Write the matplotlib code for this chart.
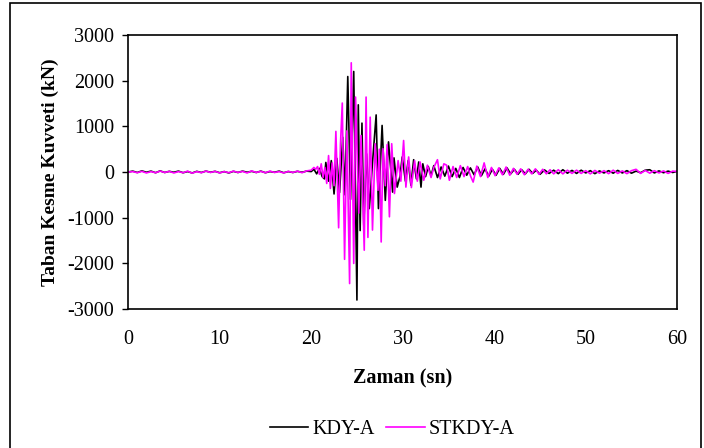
import numpy as np
import matplotlib.pyplot as plt
from matplotlib.patches import Rectangle

plt.rcParams['font.family'] = ['Liberation Serif', 'DejaVu Serif']
plt.rcParams['axes.unicode_minus'] = False

# quiet part before the strong motion (0-20 s, every 0.5 s)
quiet_t = [0.0, 0.5, 1.0, 1.5, 2.0, 2.5, 3.0, 3.5, 4.0, 4.5, 5.0, 5.5, 6.0, 6.5,
           7.0, 7.5, 8.0, 8.5, 9.0, 9.5, 10.0, 10.5, 11.0, 11.5, 12.0, 12.5, 13.0,
           13.5, 14.0, 14.5, 15.0, 15.5, 16.0, 16.5, 17.0, 17.5, 18.0, 18.5, 19.0,
           19.5]
kdy_quiet = [0, 20, -10, 25, -5, 20, -15, 25, -10, 15, -5, 20, -15, 10, -20, 15,
             -10, 20, -5, 15, -15, 10, -20, 15, -10, 20, -5, 15, -10, 20, -15, 10,
             -5, 20, -15, 10, -10, 15, -5, 20]
st_quiet = [0, 10, -15, 15, -20, 10, -15, 20, -10, 15, -20, 10, -15, 20, -25, 10,
            -15, 20, -10, 15, -20, 10, -15, 20, -10, 15, -20, 25, -10, 15, -15, 20,
            -10, 10, -20, 15, -10, 20, -15, 25]

# KDY-A, strong motion and decay (20-60 s)
kdy_t = [20.0, 20.3, 20.6, 20.9, 21.2, 21.45, 21.6, 21.9, 22.2, 22.5, 22.8, 23.1,
         23.45, 23.7, 24.0, 24.3, 24.65, 25.0, 25.15, 25.35, 25.55, 25.75, 26.05,
         26.35, 26.7, 27.1, 27.35, 27.75, 28.1, 28.45, 28.9, 29.05, 29.4, 29.7,
         29.95, 30.3, 30.6, 30.9, 31.2, 31.5, 31.75, 32.0, 32.2, 32.5, 32.8, 33.1,
         33.4, 33.8, 34.2, 34.6, 35.0, 35.4, 35.8, 36.2, 36.6, 37.0, 37.4, 37.8,
         38.2, 38.6, 39.0, 39.4, 39.8, 40.2, 40.6, 41.0, 41.4, 41.8, 42.2, 42.6,
         43.0, 43.4, 43.8, 44.2, 44.6, 45.0, 45.5, 46.0, 46.5, 47.0, 47.5, 48.0,
         48.5, 49.0, 49.5, 50.0, 50.5, 51.0, 51.5, 52.0, 52.5, 53.0, 53.5, 54.0,
         54.5, 55.0, 55.5, 56.0, 56.5, 57.0, 57.5, 58.0, 58.5, 59.0, 59.5, 60.0]
kdy_v = [10, 60, -40, 80, -100, -150, 210, -200, 250, -480, 300, -450,
         760, -500, 2090, -600, 2200, -2800, 1470, -1280, 1070, -1160, 400,
         -800, 200, 1250, -800, 1020, -620, 660, -440, 310, -330, -100,
         330, -200, 250, -290, 270, -150, 220, -330, 180, -100, 120, -80,
         140, -120, 110, -90, 130, -100, 80, -120, 100, -70, 90, -60,
         110, -80, 70, -90, 60, -70, 80, -50, 90, -40, 60, -50,
         50, -40, 60, -30, 40, -50, 45, -30, 40, -35, 50, -25,
         35, -30, 40, -20, 30, -35, 25, -20, 30, -25, 35, -20,
         30, -25, 20, -15, 40, 50, -20, 25, -15, 20, -10, 15]

# STKDY-A, strong motion and decay (20-60 s)
st_t = [20.0, 20.3, 20.5, 20.7, 20.9, 21.1, 21.3, 21.5, 21.7, 21.9, 22.1, 22.3,
        22.5, 22.7, 23.0, 23.2, 23.4, 23.65, 23.9, 24.2, 24.38, 24.65, 24.85,
        25.2, 25.45, 25.8, 26.0, 26.2, 26.45, 26.7, 27.0, 27.3, 27.45, 27.65,
        27.85, 28.1, 28.3, 28.55, 28.8, 29.1, 29.5, 29.8, 30.1, 30.35, 30.65,
        30.95, 31.3, 31.6, 31.9, 32.3, 32.7, 33.1, 33.4, 33.8, 34.1, 34.5, 34.8,
        35.1, 35.5, 35.9, 36.3, 36.7, 37.1, 37.4, 37.7, 38.1, 38.5, 38.9, 39.3,
        39.7, 40.1, 40.5, 40.9, 41.3, 41.7, 42.1, 42.5, 42.9, 43.3, 43.7, 44.1,
        44.5, 44.9, 45.3, 45.7, 46.1, 46.5, 47.0, 47.5, 48.0, 48.5, 49.0, 49.5,
        50.0, 50.5, 51.0, 51.5, 52.0, 52.5, 53.0, 53.5, 54.0, 54.5, 55.0, 55.5,
        56.0, 56.5, 57.0, 57.5, 58.0, 58.5, 59.0, 59.5, 60.0]
st_v = [40, 100, 60, 120, -50, 180, -120, 100, -250, 360, -360, 200,
        -300, 890, -1220, 600, 1510, -1910, 900, -2440, 2390, -2000, 1640,
        -900, 800, -1710, 1640, -1430, 1200, -1270, 620, -400, 500, -1530,
        510, -300, 600, -980, 620, -470, 250, -200, 690, -330, 330,
        -340, 250, -200, 220, -180, 150, -120, 100, 270, -150, 180, 150,
        -180, 120, -120, 140, -100, 120, -80, -220, 130, -100, 200, -120,
        100, -80, 90, -60, 110, -70, 80, -50, 70, -60, 60, -40,
        70, -50, 60, -40, 50, -40, 50, -40, 40, -30, 40, -30,
        30, -40, 35, -25, 30, -35, 40, -30, 25, -35, 30, 60,
        -30, 35, -25, 30, -20, 25, -30, 20, 10]

t_kdy = quiet_t + kdy_t
v_kdy = kdy_quiet + kdy_v
t_st = quiet_t + st_t
v_st = st_quiet + st_v

fig = plt.figure(figsize=(7.04, 4.48), dpi=100)
ax = fig.add_axes([0.182, 0.310, 0.780, 0.612])

ax.plot(t_kdy, v_kdy, color='black', lw=1.2, label='KDY-A')
ax.plot(t_st, v_st, color='#ff00ff', lw=1.2, label='STKDY-A')

ax.set_xlim(0, 60)
ax.set_ylim(-3000, 3000)
ax.set_xticks(np.arange(0, 61, 10))
ax.set_yticks(np.arange(-3000, 3001, 1000))
ax.tick_params(direction='out', length=4, width=1, labelsize=14.5, pad=6)
ax.tick_params(axis='x', length=0, pad=15)
for s in ax.spines.values():
    s.set_linewidth(1.2)

ax.set_xlabel('Zaman (sn)', fontsize=14.5, fontweight='bold', labelpad=14)
ax.set_ylabel('Taban Kesme Kuvveti (kN)', fontsize=14, fontweight='bold',
              labelpad=6)

fig.legend(loc='center', bbox_to_anchor=(0.557, 0.042), ncol=2, frameon=False,
           fontsize=14.5, handlelength=1.9, columnspacing=0.6, handletextpad=0.2)

# outer frame around the chart
fig.patches.append(Rectangle((0.0142, -0.01), 0.9815, 1.0033, transform=fig.transFigure,
                             fill=False, edgecolor='black', lw=1.2))

fig.savefig('out.png', dpi=100)
